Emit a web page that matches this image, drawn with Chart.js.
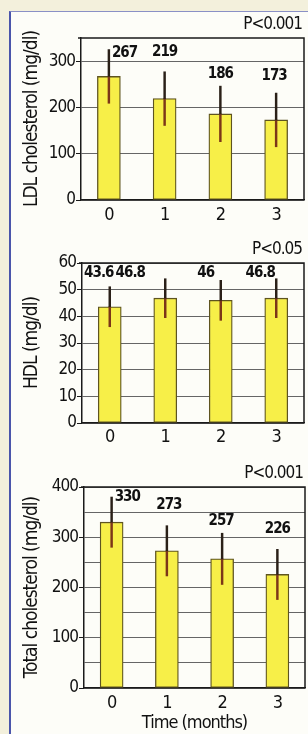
<!DOCTYPE html>
<html>
<head>
<meta charset="utf-8">
<script src="https://cdn.jsdelivr.net/npm/chart.js@4.4.1/dist/chart.umd.min.js"></script>
<style>
  body { margin: 0; background: #f3f0dc; width: 308px; height: 734px; overflow: hidden; position: relative; }
  #frame { position: absolute; left: 9px; top: 11px; width: 320px; height: 740px;
           border-left: 2px solid #4a55ab; border-top: 1px solid #8a90c6; background: #fdfdf8; }
  canvas { position: absolute; left: 0; }
</style>
</head>
<body>
<div id="frame"></div>
<canvas id="ldl" width="308" height="235" style="top:0px"></canvas>
<canvas id="hdl" width="308" height="210" style="top:235px"></canvas>
<canvas id="total" width="308" height="289" style="top:445px"></canvas>
<script>
// data (mean and SD per month)
const months = ['0', '1', '2', '3'];

const ldlMean = [267, 219, 186, 173];
const ldlSd = [58, 58, 60, 58];

const hdlMean = [43.6, 46.8, 46, 46.8];
const hdlSd = [7.5, 7.3, 7.5, 7.3];

const totalMean = [330, 273, 257, 226];
const totalSd = [50, 50, 51, 50];

const pLabels = ['P<0.001', 'P<0.05', 'P<0.001'];

const FONT = "'DejaVu Sans Condensed', 'Liberation Sans', sans-serif";
Chart.defaults.font.family = FONT;
Chart.defaults.color = '#111';

/* ---------- box, p value, bar labels ---------- */
const panelDecor = {
    id: 'panelDecor',
    beforeDraw(chart) {
        // squeeze text a bit, the original uses a condensed face
        chart.ctx.letterSpacing = '-1px';
    },
    afterDatasetsDraw(chart, args, opts) {
        const { ctx, chartArea: a } = chart;
        ctx.save();
        ctx.strokeStyle = '#1a1a1a';
        ctx.lineWidth = 1.5;
        ctx.beginPath();
        ctx.moveTo(a.left - 3, a.top);
        ctx.lineTo(a.right, a.top);
        ctx.lineTo(a.right, a.bottom);
        ctx.stroke();

        ctx.fillStyle = '#111';
        ctx.font = '17px ' + FONT;
        ctx.textAlign = 'right';
        ctx.textBaseline = 'middle';
        ctx.fillText(opts.p, a.right - 2, a.top - 13);

        ctx.font = 'bold 15px ' + FONT;
        const means = chart.data.datasets[0].data;
        const tops = chart.getDatasetMeta(1).data;
        means.forEach((m, i) => {
            const o = opts.offsets[i];
            ctx.textAlign = o.align || 'center';
            ctx.fillText(String(m), tops[i].x + o.dx, tops[i].y + o.dy);
        });
        ctx.restore();
    }
};

function makePanel(id, cfg) {
    const ctx = document.getElementById(id).getContext('2d');
    return new Chart(ctx, {
        type: 'bar',
        data: {
            labels: months,
            datasets: [
                {
                    data: cfg.mean,
                    backgroundColor: '#f7ef48',
                    borderColor: '#5e5420',
                    borderWidth: 1.3,
                    borderSkipped: false,
                    barThickness: 23,
                    order: 2
                },
                {
                    data: cfg.mean.map((m, i) => [m, m + cfg.sd[i]]),
                    backgroundColor: '#2a2018',
                    borderWidth: 0,
                    barThickness: 1.8,
                    grouped: false,
                    order: 0
                },
                {
                    data: cfg.mean.map((m, i) => [m - cfg.sd[i], m]),
                    backgroundColor: '#7c3618',
                    borderWidth: 0,
                    barThickness: 1.8,
                    grouped: false,
                    order: 1
                }
            ]
        },
        options: {
            responsive: false,
            animation: false,
            events: [],
            layout: { padding: { top: cfg.padTop, right: cfg.padRight, left: 0, bottom: 0 } },
            plugins: {
                legend: { display: false },
                tooltip: { enabled: false },
                panelDecor: { p: cfg.p, offsets: cfg.offsets }
            },
            scales: {
                x: {
                    grid: { display: false, drawTicks: false },
                    border: { color: '#1a1a1a', width: 1.5 },
                    ticks: { font: { size: 18 }, padding: cfg.xPad, color: '#111' },
                    title: cfg.xTitle
                        ? { display: true, text: cfg.xTitle, font: { size: 18 }, padding: { top: 1, bottom: 0 }, color: '#111' }
                        : { display: false },
                    afterFit: s => { s.height = cfg.xHeight; }
                },
                y: {
                    min: 0,
                    max: cfg.max,
                    ticks: {
                        stepSize: cfg.gridStep,
                        font: { size: 17 },
                        padding: 1,
                        color: '#111',
                        callback: v => (v % cfg.labelStep === 0 ? v : '')
                    },
                    grid: {
                        color: '#666',
                        lineWidth: 1,
                        tickLength: 5,
                        tickColor: c => (c.tick && c.tick.value % cfg.labelStep === 0 ? '#1a1a1a' : 'rgba(0,0,0,0)')
                    },
                    border: { color: '#1a1a1a', width: 1.5 },
                    title: {
                        display: true,
                        text: cfg.yTitle,
                        font: { size: 19 },
                        color: '#111',
                        padding: { top: 21, bottom: 0 }
                    },
                    afterFit: s => { s.width = cfg.yWidth; }
                }
            }
        },
        plugins: [panelDecor]
    });
}

makePanel('ldl', {
    mean: ldlMean, sd: ldlSd, p: pLabels[0],
    max: 350, gridStep: 50, labelStep: 100,
    yTitle: 'LDL cholesterol (mg/dl)',
    padTop: 38, padRight: 4, yWidth: 81, xHeight: 35, xPad: 5,
    offsets: [
        { dx: 3, dy: 4, align: 'left' },
        { dx: 0, dy: -20 },
        { dx: 0, dy: -12 },
        { dx: -2, dy: -17 }
    ]
});

makePanel('hdl', {
    mean: hdlMean, sd: hdlSd, p: pLabels[1],
    max: 60, gridStep: 10, labelStep: 10,
    yTitle: 'HDL (mg/dl)',
    padTop: 28, padRight: 4, yWidth: 82, xHeight: 22, xPad: 4,
    offsets: [
        { dx: -11, dy: -14 },
        { dx: -35, dy: -6 },
        { dx: -15, dy: -7 },
        { dx: -16, dy: -6 }
    ]
});

makePanel('total', {
    mean: totalMean, sd: totalSd, p: pLabels[2],
    max: 400, gridStep: 50, labelStep: 100,
    yTitle: 'Total cholesterol (mg/dl)', xTitle: 'Time (months)',
    padTop: 42, padRight: 3, yWidth: 84, xHeight: 46, xPad: 5,
    offsets: [
        { dx: 3, dy: 0, align: 'left' },
        { dx: 2, dy: -21 },
        { dx: -1, dy: -12 },
        { dx: 0, dy: -20 }
    ]
});
</script>
</body>
</html>
